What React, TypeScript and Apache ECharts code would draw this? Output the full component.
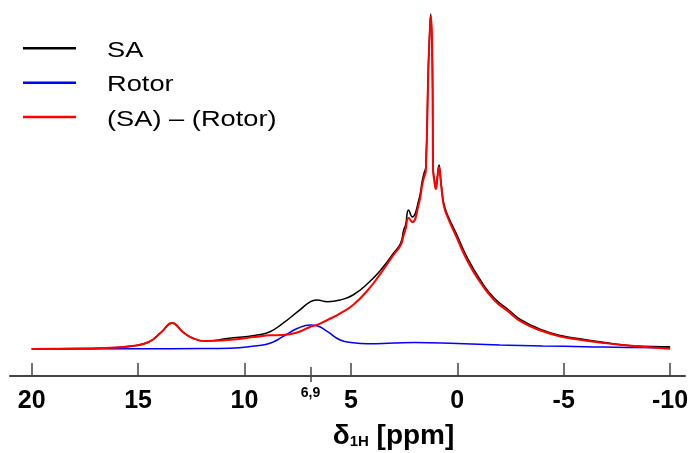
import React, { useEffect, useRef } from "react";
import * as echarts from "echarts";

const seriesNames = ["SA", "Rotor", "(SA) – (Rotor)"];
const seriesColors = ["#000000", "#0000ff", "#ff0000"];

const shiftPpm = [20, 17.5, 16, 15.3, 14.5, 13.9, 13.4, 12.9, 12.4, 11.8, 10.8, 9.4, 8.8, 8.2, 7.5, 6.9, 6.6, 6.1, 5.5, 4.9, 4.2, 3.6, 3.0, 2.66, 2.52, 2.43, 2.29, 2.12, 1.81, 1.64, 1.56, 1.48, 1.36, 1.29, 1.25, 1.17, 1.14, 1.08, 1.01, 0.94, 0.86, 0.78, 0.73, 0.63, 0.44, 0.08, -0.5, -1.11, -1.73, -2.39, -3.0, -3.95, -4.9, -5.84, -6.78, -7.73, -8.67, -9.62, -10];
const saValues = [0, 0.5, 1.5, 3, 7, 17, 26, 17, 10.5, 8, 10.5, 14, 17.3, 25.7, 37.3, 47.3, 49, 47.3, 49, 54, 65.7, 79, 95.7, 106, 119, 124, 139, 132, 149, 169, 176, 182, 282, 320, 335, 282, 182, 170, 162, 172, 184, 170, 160, 145, 133, 117, 90, 68, 51, 39.5, 29, 19.3, 13.3, 10, 7, 4.3, 2.7, 2.3, 2.3];
const diffValues = [0, 0.5, 1.5, 3, 7, 17, 26, 17, 10.5, 8, 9, 12.3, 13.7, 14, 16.7, 22.3, 24, 29, 35.7, 44, 59, 75.7, 94, 104, 114, 120, 131, 127, 145, 165, 172, 178, 280, 318, 333, 280, 180, 168, 160, 170, 182, 168, 158, 143, 131, 114, 87, 65.7, 49, 37.5, 27.3, 18.3, 12.3, 9, 6.3, 4, 2.3, 0.7, 0.3];

const rotorPpm = [20, 15, 12, 10.7, 9.4, 8.8, 8.2, 7.5, 6.9, 6.6, 6.1, 5.5, 4.9, 4.2, 3.0, 2.0, 0, -2, -4, -6, -8, -10];
const rotorValues = [0, 0.3, 0.4, 0.7, 3.3, 5.7, 12.3, 20.7, 24, 23.3, 17.3, 9, 6.3, 5.3, 6, 6.5, 5.5, 4, 3, 2.3, 1.5, 1.3];

const tickValues = [20, 15, 10, 5, 0, -5, -10];
const markedShift = [6.9];
const markedShiftLabel = "6,9";

const FONT = "Arial, 'Liberation Sans', sans-serif";

export default function App() {
  const ref = useRef<HTMLDivElement>(null);
  useEffect(() => {
    if (!ref.current) return;
    const chart = echarts.init(ref.current, null, { renderer: "svg" });
    const pair = (xs: number[], ys: number[]) => xs.map((x, i) => [x, ys[i]]);
    const baseX = {
      type: "value" as const,
      min: -10.7,
      max: 21.02,
      inverse: true,
      position: "bottom" as const,
      splitLine: { show: false },
    };
    const legendRows = [48.3, 82.7, 117];
    const legendGraphic: any[] = [];
    seriesNames.forEach((n, i) => {
      legendGraphic.push({
        type: "line",
        shape: { x1: 23, y1: legendRows[i], x2: 76, y2: legendRows[i] },
        style: { stroke: seriesColors[i], lineWidth: 2.5 },
      });
      legendGraphic.push({
        type: "text",
        x: 107,
        y: legendRows[i] + 1,
        scaleX: 1.24,
        style: { text: n, font: `22px ${FONT}`, fill: "#000", verticalAlign: "middle", align: "left" },
      });
    });
    const mkLine = (name: string, xs: number[], ys: number[], color: string, width: number) => ({
      name,
      type: "line",
      data: pair(xs, ys),
      showSymbol: false,
      smooth: 0.5,
      lineStyle: { color, width },
      itemStyle: { color },
    });
    chart.setOption({
      animation: false,
      grid: { left: 10, right: 7, top: 10, bottom: 77, outerBoundsMode: "none" },
      graphic: legendGraphic,
      xAxis: [
        {
          ...baseX,
          axisLine: { show: true, onZero: false, lineStyle: { color: "#444", width: 2 } },
          axisTick: { show: true, inside: true, length: 13, customValues: tickValues, lineStyle: { color: "#444", width: 1.5 } },
          axisLabel: {
            customValues: tickValues,
            formatter: (v: number) => String(v),
            fontSize: 25,
            fontWeight: "bold",
            fontFamily: FONT,
            color: "#000",
            margin: 10,
          },
          name: "{d|δ}{s|1H}{d| [ppm]}",
          nameLocation: "middle",
          nameGap: 44,
          nameTextStyle: {
            padding: [0, 0, 0, 92],
            rich: {
              d: { fontSize: 28, fontWeight: "bold", fontFamily: FONT, color: "#000" },
              s: { fontSize: 15, fontWeight: "bold", fontFamily: FONT, color: "#000", verticalAlign: "bottom", padding: [10, 0, 0, 0] },
            },
          },
        },
        {
          ...baseX,
          axisLine: { show: false, onZero: false },
          axisTick: { show: true, inside: true, length: 9, customValues: markedShift, lineStyle: { color: "#444", width: 1.5 } },
          axisLabel: { show: false, customValues: markedShift },
        },
        {
          ...baseX,
          axisLine: { show: false, onZero: false },
          axisTick: { show: true, inside: false, length: 6, customValues: markedShift, lineStyle: { color: "#444", width: 1.5 } },
          axisLabel: {
            customValues: markedShift,
            formatter: () => markedShiftLabel,
            fontSize: 14,
            fontWeight: "bold",
            fontFamily: FONT,
            color: "#000",
            margin: 9,
          },
        },
      ],
      yAxis: { type: "value", min: -27, max: 339, show: false },
      series: [
        mkLine(seriesNames[0], shiftPpm, saValues, seriesColors[0], 1.5),
        mkLine(seriesNames[1], rotorPpm, rotorValues, seriesColors[1], 1.5),
        mkLine(seriesNames[2], shiftPpm, diffValues, seriesColors[2], 2),
      ],
    });
    return () => chart.dispose();
  }, []);
  return <div ref={ref} style={{ position: "fixed", left: 0, top: 0, width: 692, height: 453 }} />;
}
